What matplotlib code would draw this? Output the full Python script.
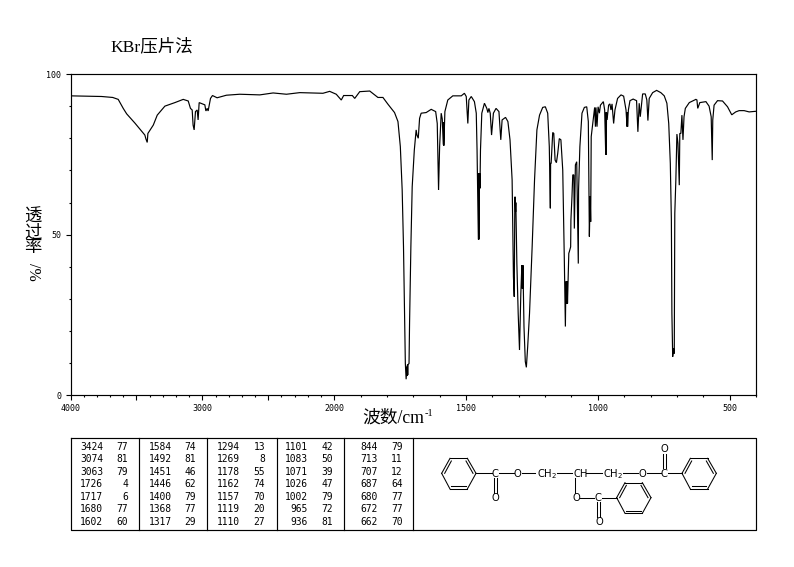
# IR spectrum, KBr pellet, with peak table and structure

import matplotlib
matplotlib.use("Agg")
import matplotlib.pyplot as plt
import numpy as np

# spectrum
wavenumber = [
    4000, 3764, 3680, 3638, 3600, 3574, 3511, 3436, 3428, 3418, 3413, 3372, 3342, 3284,
    3208, 3145, 3107, 3090, 3077, 3070, 3062, 3052, 3039, 3032, 3024, 2981, 2973, 2963,
    2956, 2938, 2923, 2888, 2817, 2716, 2564, 2463, 2362, 2261, 2085, 2034, 1992, 1973,
    1964, 1931, 1922, 1903, 1865, 1834, 1815, 1796, 1771, 1758, 1749, 1742, 1737, 1733,
    1730, 1727, 1724, 1723, 1722, 1721, 1720, 1716, 1714, 1709, 1704, 1696, 1689, 1686,
    1681, 1676, 1670, 1651, 1632, 1615, 1609, 1604, 1600, 1594, 1590, 1586, 1585, 1584,
    1580, 1569, 1550, 1518, 1506, 1499, 1493, 1489, 1480, 1468, 1461, 1458, 1453, 1452,
    1451, 1450, 1449, 1448, 1447, 1445, 1440, 1430, 1421, 1417, 1413, 1408, 1403, 1396,
    1386, 1375, 1368, 1363, 1350, 1341, 1333, 1325, 1320, 1317, 1315, 1314, 1312, 1311,
    1307, 1302, 1297, 1292, 1288, 1287, 1286, 1285, 1284, 1280, 1275, 1271, 1266, 1259,
    1249, 1240, 1231, 1221, 1209, 1199, 1190, 1184, 1180, 1179, 1177, 1171, 1167, 1162,
    1157, 1152, 1146, 1140, 1133, 1127, 1123, 1121, 1119, 1118, 1117, 1116, 1115, 1113,
    1110, 1108, 1103, 1102, 1098, 1095, 1091, 1089, 1085, 1080, 1078, 1074, 1073, 1068,
    1060, 1051, 1042, 1036, 1032, 1029, 1027, 1025, 1020, 1012, 1009, 1007, 1003, 999,
    994, 990, 979, 974, 970, 969, 968, 967, 965, 959, 954, 950, 946, 940, 935,
    925, 912, 902, 893, 889, 888, 887, 884, 878, 866, 853, 848, 843, 839, 830,
    820, 814, 810, 805, 792, 777, 761, 748, 738, 731, 725, 721, 719, 716, 713,
    710, 708, 704, 700, 696, 691, 689, 685, 681, 677, 673, 668, 653, 628, 624,
    621, 613, 590, 578, 570, 566, 564, 559, 546, 527, 508, 492, 477, 464, 445, 426, 400,
]
transmittance = [
    93.2, 93.0, 92.7, 92.1, 89.3, 87.6, 84.7, 81.0, 79.8, 78.7, 81.5, 84.1, 87.2, 90.0,
    91.1, 92.1, 91.6, 89.3, 88.8, 84.1, 82.6, 88.3, 88.8, 85.7, 91.1, 90.4, 88.5, 89.3,
    88.5, 92.4, 93.3, 92.6, 93.4, 93.7, 93.5, 94.1, 93.7, 94.2, 94.0, 94.6, 93.7, 91.9,
    93.3, 93.3, 92.4, 94.5, 94.7, 92.7, 92.7, 90.6, 88.0, 85.2, 77.4, 63.9, 46.3, 25.5,
    9.9, 5.0, 8.9, 6.0, 9.5, 6.3, 9.5, 9.9, 22.4, 46.3, 64.9, 76.3, 82.6, 81.0,
    80.0, 86.2, 87.8, 88.0, 89.0, 88.3, 84.6, 63.9, 77.4, 87.8, 86.0, 78.0, 85.0, 77.7,
    88.3, 91.9, 93.2, 93.2, 94.0, 93.0, 84.6, 91.9, 93.0, 91.4, 87.8, 76.3, 48.5, 69.0,
    48.5, 69.1, 64.4, 69.0, 64.4, 76.3, 87.8, 90.9, 89.3, 88.0, 89.3, 87.8, 81.0, 87.8,
    89.3, 88.3, 79.5, 85.7, 86.5, 85.2, 79.5, 67.0, 36.9, 30.7, 56.6, 61.8, 57.1, 60.0,
    41.0, 25.5, 14.1, 31.7, 40.5, 33.3, 40.5, 33.3, 40.5, 21.4, 10.5, 8.7, 15.1, 25.5,
    46.3, 67.0, 82.6, 87.2, 89.6, 89.8, 87.8, 77.4, 58.2, 72.2, 72.2, 81.8, 81.5, 73.2,
    72.4, 75.3, 79.9, 79.5, 70.1, 42.1, 21.4, 35.4, 28.6, 35.4, 28.6, 35.4, 28.6, 35.4,
    44.2, 44.7, 46.2, 54.6, 61.8, 68.6, 68.6, 51.9, 71.7, 72.7, 61.8, 41.0, 63.9, 77.4,
    87.8, 89.6, 89.8, 85.2, 49.4, 62.0, 54.0, 80.5, 84.1, 89.6, 83.6, 89.6, 83.6, 89.8,
    87.8, 90.3, 91.4, 88.8, 75.0, 88.0, 74.8, 88.0, 85.7, 90.3, 90.7, 88.8, 90.7, 84.6, 88.8,
    92.4, 93.5, 93.1, 88.8, 83.6, 88.0, 83.6, 88.8, 91.7, 92.2, 91.7, 82.0, 90.9, 86.7, 93.8,
    93.8, 91.9, 85.5, 92.4, 94.2, 94.9, 94.2, 93.2, 90.9, 84.6, 72.2, 54.6, 25.5, 12.0, 14.6,
    13.0, 56.6, 67.0, 81.3, 78.4, 65.4, 81.5, 81.5, 87.2, 79.5, 86.7, 89.3, 91.1, 92.1, 91.9,
    89.3, 91.1, 91.4, 90.0, 86.7, 73.2, 85.7, 90.3, 91.7, 91.6, 89.8, 87.3, 88.2, 88.6, 88.6, 88.2, 88.4,
]

x_major = [4000, 3500, 3000, 2500, 2000, 1500, 1000, 500]
x_labels = ["4000", "", "3000", "", "2000", "1500", "1000", "500"]
y_major = [0, 50, 100]

# peak table, one list per column
peak_wn = [
    [3424, 3074, 3063, 1726, 1717, 1680, 1602],
    [1584, 1492, 1451, 1446, 1400, 1368, 1317],
    [1294, 1269, 1178, 1162, 1157, 1119, 1110],
    [1101, 1083, 1071, 1026, 1002, 965, 936],
    [844, 713, 707, 687, 680, 672, 662],
]
peak_t = [
    [77, 81, 79, 4, 6, 77, 60],
    [74, 81, 46, 62, 79, 77, 29],
    [13, 8, 55, 74, 70, 20, 27],
    [42, 50, 39, 47, 79, 72, 81],
    [79, 11, 12, 64, 77, 77, 70],
]

W, H = 794, 567
SERIF = ["Liberation Serif", "Noto Sans CJK SC"]
MONO = "DejaVu Sans Mono"
PX = 72 / 100  # one pixel in points


# below 2000 the axis is stretched by two
def fwd(x):
    x = np.asarray(x, dtype=float)
    return np.where(x < 2000, x, 2000 + (x - 2000) / 2)


def inv(u):
    u = np.asarray(u, dtype=float)
    return np.where(u < 2000, u, 2000 + (u - 2000) * 2)


fig = plt.figure(figsize=(W / 100, H / 100), dpi=100)

ax = fig.add_axes([70.5 / W, 1 - 395.3 / H, (756 - 70.5) / W, (395.3 - 74) / H])
ax.set_xscale("function", functions=(fwd, inv))
ax.plot(wavenumber, transmittance, color="black", lw=0.85, solid_joinstyle="miter")
ax.set_xlim(4000, 400)
ax.set_ylim(0, 100)

ax.set_xticks(x_major)
ax.set_xticklabels(x_labels, family=MONO, fontsize=6)
ax.set_xticks([v for v in range(400, 4000, 100) if v not in x_major], minor=True)
ax.set_yticks(y_major)
ax.set_yticklabels([str(v) for v in y_major], family=MONO, fontsize=6)
ax.set_yticks([v for v in range(0, 100, 10) if v not in y_major], minor=True)
ax.tick_params(which="major", length=5 * PX, width=0.8, pad=3)
ax.tick_params(which="minor", length=2.5 * PX, width=0.8)
for sp in ax.spines.values():
    sp.set_linewidth(0.85)

# overlay in image pixels for the text, table and structure
ov = fig.add_axes([0, 0, 1, 1], facecolor="none")
ov.set_xlim(0, W)
ov.set_ylim(H, 0)
ov.axis("off")

ov.text(110, 47, "KBr压片法", family=SERIF, fontsize=12.6, ha="left", va="center")
ov.text(33, 233, "透\n过\n率", family=SERIF, fontsize=12.5, ha="center", va="center",
        linespacing=0.9)
ov.text(33, 272, "/%", family=SERIF, fontsize=11.5, rotation=270, ha="center", va="center")
ov.text(424, 418, "波数/cm", family=SERIF, fontsize=12.8, ha="right", va="center")
ov.text(425, 413, "-1", family=SERIF, fontsize=7.5, ha="left", va="center")

# table frame
ov.plot([70.5, 756, 756, 70.5, 70.5], [438, 438, 530, 530, 438], color="black", lw=0.85)
for x in [139.3, 207.3, 276.7, 344.3, 413.3]:
    ov.plot([x, x], [438, 530], color="black", lw=0.85)

row_y = [447.3, 459.3, 472, 484, 496.7, 509, 521.7]
wn_right = [103, 171.7, 240, 308, 378]
t_right = [128, 196, 265, 333, 402.7]
for c in range(5):
    for r in range(7):
        ov.text(wn_right[c], row_y[r], str(peak_wn[c][r]), family=MONO, fontsize=6.9,
                ha="right", va="center")
        ov.text(t_right[c], row_y[r], str(peak_t[c][r]), family=MONO, fontsize=6.9,
                ha="right", va="center")


# structure drawing, coordinates taken from the 3x crop
def zx(v):
    return 410 + v / 3


def zy(v):
    return 430 + v / 3


def bond(x0, y0, x1, y1):
    ov.plot([zx(x0), zx(x1)], [zy(y0), zy(y1)], color="black", lw=0.75)


def ring(x, y):
    # x, y is the left corner of the hexagon
    pts = [(x, y), (x + 25, y - 45), (x + 77, y - 45), (x + 103, y), (x + 77, y + 47), (x + 25, y + 47)]
    for i in range(6):
        bond(*pts[i], *pts[(i + 1) % 6])
    bond(x + 9, y, x + 29, y - 37)
    bond(x + 73, y - 37, x + 94, y)
    bond(x + 29, y + 39, x + 73, y + 39)


def atom(x, y, s, ha="center"):
    ov.text(zx(x), zy(y), s, family="DejaVu Sans", fontsize=7.2, ha=ha, va="center")


ring(95, 130)
ring(816, 130)
ring(620, 203)

for seg in [(198, 130, 245, 130), (268, 130, 312, 130), (335, 130, 375, 130),
            (440, 130, 487, 130), (527, 130, 575, 130), (640, 130, 685, 130),
            (710, 130, 752, 130), (773, 130, 816, 130), (495, 145, 495, 190),
            (510, 203, 553, 203), (575, 203, 620, 203),
            (252, 145, 252, 188), (260, 145, 260, 188),
            (759, 115, 759, 73), (767, 115, 767, 73),
            (561, 217, 561, 260), (569, 217, 569, 260)]:
    bond(*seg)

atom(256, 131, "C")
atom(256, 203, "O")
atom(323, 131, "O")
atom(380, 133, "CH$_2$", ha="left")
atom(490, 131, "CH", ha="left")
atom(578, 133, "CH$_2$", ha="left")
atom(698, 131, "O")
atom(763, 131, "C")
atom(764, 58, "O")
atom(500, 203, "O")
atom(565, 203, "C")
atom(567, 275, "O")

fig.savefig("out.png", dpi=100)
